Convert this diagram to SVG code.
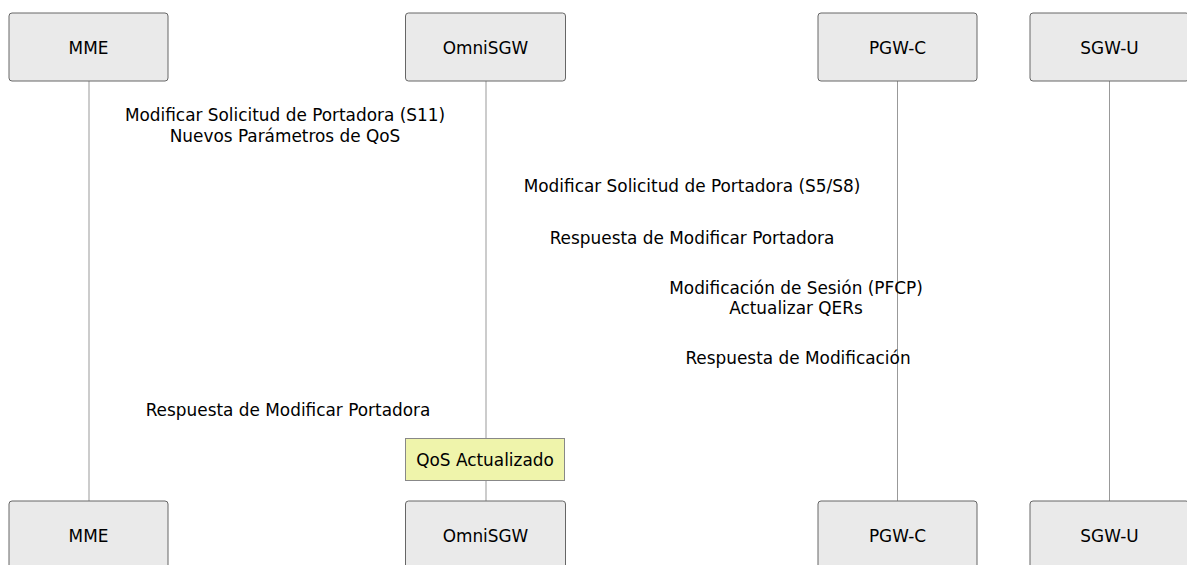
<svg xmlns="http://www.w3.org/2000/svg" width="1187" height="565" viewBox="0 0 1187 565">
<style>
.actor{fill:#eaeaea;stroke:#666;stroke-width:1}
.life{stroke:#999;stroke-width:1;fill:none}
text{font-family:"DejaVu Sans","Liberation Sans",sans-serif;font-size:16.9px;fill:#000;text-anchor:middle}
.note{fill:#eff4ab;stroke:#888;stroke-width:1}
</style>
<rect width="1187" height="565" fill="#fff"/>
<g id="lifelines">
<line class="life" x1="89" y1="81" x2="89" y2="501"/>
<line class="life" x1="486" y1="81" x2="486" y2="501"/>
<line class="life" x1="897.5" y1="81" x2="897.5" y2="501"/>
<line class="life" x1="1109.5" y1="81" x2="1109.5" y2="501"/>
</g>
<g id="actor-mme-top"><rect class="actor" x="9" y="13" width="159" height="68" rx="3"/><text x="88.5" y="54">MME</text></g>
<g id="actor-sgw-top"><rect class="actor" x="405.5" y="13" width="160" height="68" rx="3"/><text x="485.5" y="54">OmniSGW</text></g>
<g id="actor-pgw-top"><rect class="actor" x="818" y="13" width="159" height="68" rx="3"/><text x="897.5" y="54">PGW-C</text></g>
<g id="actor-sgwu-top"><rect class="actor" x="1030" y="13" width="159" height="68" rx="3"/><text x="1109.5" y="54">SGW-U</text></g>
<g id="actor-mme-bot"><rect class="actor" x="9" y="501" width="159" height="68" rx="3"/><text x="88.5" y="542">MME</text></g>
<g id="actor-sgw-bot"><rect class="actor" x="405.5" y="501" width="160" height="68" rx="3"/><text x="485.5" y="542">OmniSGW</text></g>
<g id="actor-pgw-bot"><rect class="actor" x="818" y="501" width="159" height="68" rx="3"/><text x="897.5" y="542">PGW-C</text></g>
<g id="actor-sgwu-bot"><rect class="actor" x="1030" y="501" width="159" height="68" rx="3"/><text x="1109.5" y="542">SGW-U</text></g>
<g id="messages">
<text x="285" y="121">Modificar Solicitud de Portadora (S11)</text>
<text x="285" y="142">Nuevos Parámetros de QoS</text>
<text x="692" y="192">Modificar Solicitud de Portadora (S5/S8)</text>
<text x="692" y="244">Respuesta de Modificar Portadora</text>
<text x="796" y="294">Modificación de Sesión (PFCP)</text>
<text x="796" y="314">Actualizar QERs</text>
<text x="798" y="364">Respuesta de Modificación</text>
<text x="288" y="416">Respuesta de Modificar Portadora</text>
</g>
<g id="note-qos"><rect class="note" x="405.5" y="438.5" width="159" height="42"/><text x="485" y="466">QoS Actualizado</text></g>
</svg>
